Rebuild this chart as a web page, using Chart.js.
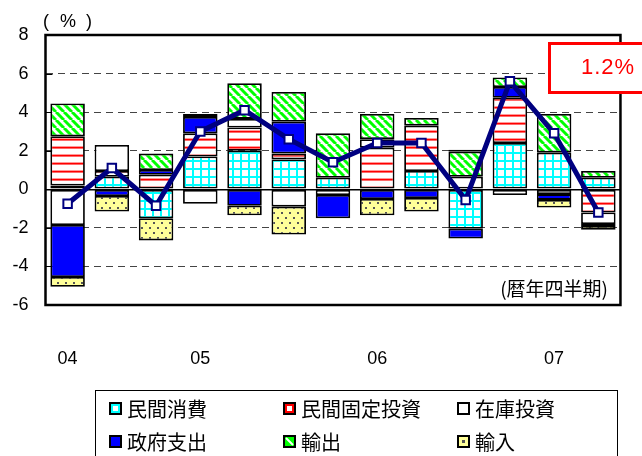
<!DOCTYPE html>
<html>
<head>
<meta charset="utf-8">
<script src="https://cdn.jsdelivr.net/npm/chart.js@4.4.1/dist/chart.umd.min.js"></script>
<style>
    body { margin: 0; background: #fff; }
</style>
</head>
<body>
<canvas id="myChart" width="642" height="456"></canvas>
<script>
// quarterly contributions to real GDP growth (%), 2004 Q2 - 2007 Q2
var quarters = ['04', '', '', '05', '', '', '', '06', '', '', '', '07', ''];
var seriesNames = ['民間消費', '民間固定投資', '在庫投資', '政府支出', '輸出', '輸入'];

var consumption = [0.2, 0.65, -1.5, 1.7, 2.0, 1.55, 0.6, 0, 0.95, -2.05, 2.4, 1.9, 0.6];
var fixedInvest = [2.55, 0.3, 0.75, 1.2, 1.2, 0.3, 0, 2.15, 2.35, 0, 2.35, 0, -1.2];
var inventory   = [-1.85, 1.35, 0, -0.75, 0.45, -0.9, -0.3, 0.45, 0, 0.65, -0.3, -0.25, -0.6];
var government  = [-2.7, -0.35, 0.25, 0.85, -0.85, 1.65, -1.2, -0.5, -0.45, -0.5, 0.55, -0.3, -0.1];
var exportsC    = [1.7, 0, 0.85, 0.15, 1.85, 1.55, 2.3, 1.3, 0.4, 1.3, 0.5, 2.0, 0.35];
var importsC    = [-0.5, -0.8, -1.15, 0, -0.5, -1.45, 0, -0.85, -0.7, 0.1, 0, -0.4, -0.2];
var gdpTotal    = [-0.75, 1.1, -0.85, 3.0, 4.1, 2.6, 1.4, 2.4, 2.4, -0.55, 5.6, 2.9, -1.2];

var yMin = -6, yMax = 8, yStep = 2;

function makePattern(kind) {
    var c = document.createElement('canvas');
    var w = 8, h = 8;
    if (kind === 'dots') h = 10;
    c.width = w; c.height = h;
    var g = c.getContext('2d');
    if (kind === 'grid') {
        g.fillStyle = '#fff'; g.fillRect(0, 0, w, h);
        g.fillStyle = '#00ffff';
        g.fillRect(0, 0, w, 2);
        g.fillRect(0, 0, 2, h);
    } else if (kind === 'hstripe') {
        g.fillStyle = '#fff'; g.fillRect(0, 0, w, h);
        g.fillStyle = '#ff9999'; g.fillRect(0, 2, w, 3);
        g.fillStyle = '#ff0000'; g.fillRect(0, 3, w, 1.3);
    } else if (kind === 'diag') {
        g.fillStyle = '#fff'; g.fillRect(0, 0, w, h);
        g.strokeStyle = '#00ff00';
        g.lineWidth = 3;
        [-8, 0, 8].forEach(function (o) {
            g.beginPath(); g.moveTo(o, 0); g.lineTo(o + 8, 8); g.stroke();
        });
    } else if (kind === 'dots') {
        g.fillStyle = '#ffff99'; g.fillRect(0, 0, w, h);
        g.fillStyle = '#555';
        g.fillRect(1, 2, 2, 2);
        g.fillRect(5, 7, 2, 2);
    }
    return g.createPattern(c, 'repeat');
}

var fills = [makePattern('grid'), makePattern('hstripe'), '#ffffff', '#0000ff', makePattern('diag'), makePattern('dots')];
var values = [consumption, fixedInvest, inventory, government, exportsC, importsC];

var datasets = values.map(function (v, i) {
    return {
        type: 'bar',
        label: seriesNames[i],
        data: v,
        stack: 'gdp',
        order: 1,
        backgroundColor: fills[i],
        borderColor: '#000',
        borderWidth: 1.8,
        borderSkipped: false,
        barPercentage: 0.78,
        categoryPercentage: 1
    };
});

datasets.push({
    type: 'line',
    label: '実質GDP',
    data: gdpTotal,
    stack: 'total',
    order: 0,
    borderColor: '#000080',
    borderWidth: 5,
    tension: 0,
    pointStyle: 'rect',
    pointRadius: 6,
    pointBorderWidth: 2,
    pointBorderColor: '#000080',
    pointBackgroundColor: '#fff'
});

function drawSwatch(ctx, i, x, y) {
    ctx.fillStyle = '#000';
    ctx.fillRect(x, y, 13, 13);
    var inner = ['#00ffff', '#ff0000', '#fff', '#0000ff', '#00ff00', '#ffff99'][i];
    ctx.fillStyle = inner;
    ctx.fillRect(x + 2, y + 2, 9, 9);
    if (i === 0 || i === 1) {
        ctx.fillStyle = '#fff';
        ctx.fillRect(x + 4, y + 4, 5, 5);
    } else if (i === 4) {
        ctx.strokeStyle = '#fff';
        ctx.lineWidth = 2;
        ctx.beginPath(); ctx.moveTo(x + 3, y + 3); ctx.lineTo(x + 10, y + 10); ctx.stroke();
    } else if (i === 5) {
        ctx.fillStyle = '#555';
        ctx.fillRect(x + 5, y + 5, 3, 3);
    }
}

var decorations = {
    id: 'decorations',
    beforeDatasetsDraw: function (chart) {
        var ctx = chart.ctx, a = chart.chartArea, ys = chart.scales.y;
        ctx.save();
        ctx.strokeStyle = '#000';
        ctx.lineWidth = 1;
        ys.ticks.forEach(function (t) {
            var py = Math.round(ys.getPixelForValue(t.value)) + 0.5;
            ctx.beginPath(); ctx.moveTo(a.left, py); ctx.lineTo(a.left + 7, py); ctx.stroke();
        });
        ctx.lineWidth = 2.5;
        ctx.strokeRect(a.left, a.top, a.right - a.left, a.bottom - a.top);
        ctx.restore();
    },
    afterDraw: function (chart) {
        var ctx = chart.ctx;
        ctx.save();
        ctx.fillStyle = '#000';
        ctx.textBaseline = 'middle';

        ctx.font = '18px "Liberation Sans", Arial, sans-serif';
        ctx.textAlign = 'center';
        ctx.fillText('(', 46, 22);
        ctx.fillText('%', 68, 22);
        ctx.fillText(')', 89, 22);

        ctx.font = '19px "Noto Sans CJK JP"';
        ctx.textAlign = 'right';
        ctx.fillText('(暦年四半期)', 608, 289);

        // latest quarter callout
        ctx.fillStyle = '#fff';
        ctx.fillRect(548, 42, 100, 52);
        ctx.strokeStyle = '#ff0000';
        ctx.lineWidth = 3;
        ctx.strokeRect(549.5, 43.5, 100, 49);
        ctx.fillStyle = '#ff0000';
        ctx.textAlign = 'left';
        ctx.font = '22px "Liberation Sans", Arial, sans-serif';
        ctx.letterSpacing = '1px';
        ctx.fillText(Math.abs(gdpTotal[gdpTotal.length - 1]).toFixed(1) + '%', 581, 68);
        ctx.letterSpacing = '0px';

        // legend
        ctx.strokeStyle = '#000';
        ctx.lineWidth = 1;
        ctx.strokeRect(95.5, 390.5, 522, 80);
        var colX = [109, 283, 457], rowY = [408, 441];
        ctx.font = '20px "Noto Sans CJK JP"';
        ctx.textAlign = 'left';
        seriesNames.forEach(function (name, i) {
            var x = colX[i % 3], y = rowY[Math.floor(i / 3)];
            drawSwatch(ctx, i, x, y - 6);
            ctx.fillStyle = '#000';
            ctx.fillText(name, x + 18, y + 1);
        });
        ctx.restore();
    }
};

Chart.defaults.font.family = '"Liberation Sans", Arial, sans-serif';
Chart.defaults.color = '#000';

var myChart = new Chart('myChart', {
    data: {
        labels: quarters,
        datasets: datasets
    },
    options: {
        responsive: false,
        animation: false,
        layout: { padding: { top: 35, right: 17, left: 0, bottom: 0 } },
        plugins: {
            legend: { display: false },
            tooltip: { enabled: false },
            title: { display: false }
        },
        scales: {
            x: {
                stacked: true,
                grid: { display: false, drawTicks: false },
                border: { display: false },
                ticks: { autoSkip: false, maxRotation: 0, padding: 43, color: '#000', font: { size: 18 } },
                afterFit: function (s) { s.height = 151; }
            },
            y: {
                stacked: true,
                min: yMin,
                max: yMax,
                grid: {
                    drawTicks: false,
                    color: function (c) {
                        if (!c.tick) return '#000';
                        var v = c.tick.value;
                        if (v === yMin || v === yMax) return 'rgba(0,0,0,0)';
                        return v === 0 ? '#000' : '#444';
                    },
                    lineWidth: function (c) {
                        return c.tick && c.tick.value === 0 ? 1.5 : 1;
                    }
                },
                border: {
                    display: false,
                    dash: function (c) {
                        if (!c.tick || c.tick.value === 0) return [];
                        return [7, 5];
                    }
                },
                ticks: { stepSize: yStep, padding: 17, color: '#000', font: { size: 18 } },
                afterFit: function (s) { s.width = 45.5; }
            }
        }
    },
    plugins: [decorations]
});
</script>
</body>
</html>
